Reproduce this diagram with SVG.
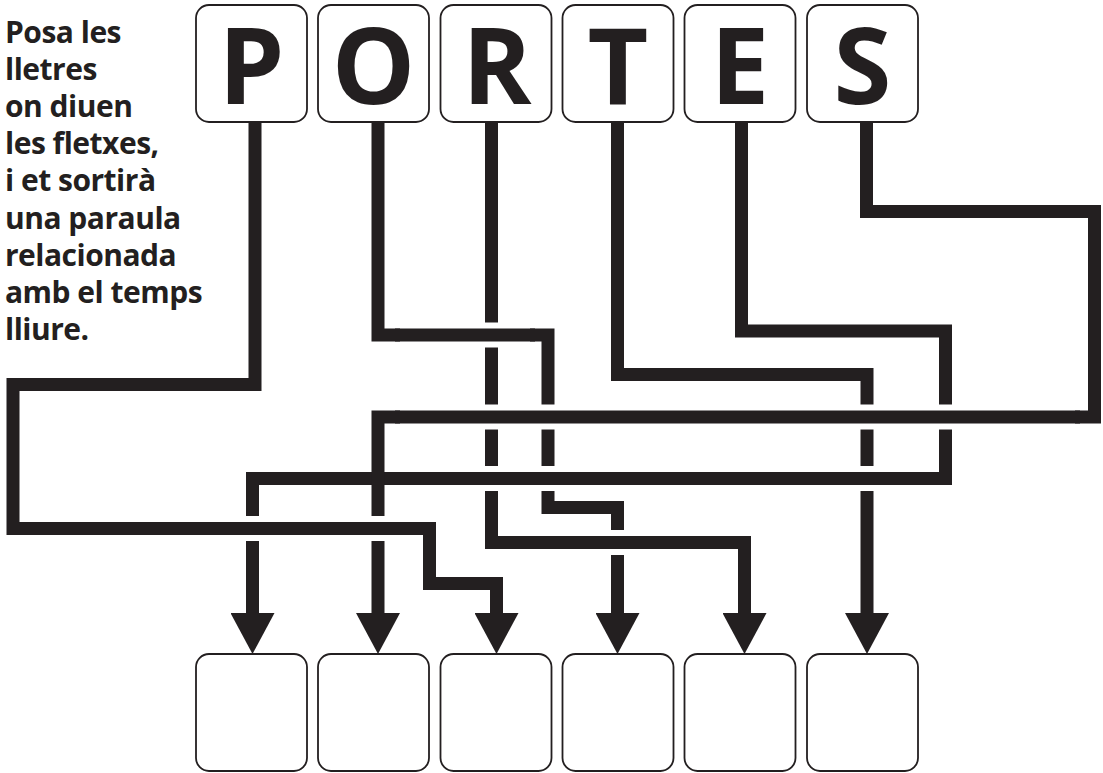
<svg xmlns="http://www.w3.org/2000/svg" width="1103" height="773" viewBox="0 0 1103 773">
  <style>
    .box { fill: #ffffff; stroke: #231f20; stroke-width: 1.8; }
    .letter { font-family: "Open Sans", "Noto Sans", "DejaVu Sans", sans-serif; font-weight: 700; font-size: 105px; fill: #231f20; text-anchor: middle; }
    .instr { font-family: "Open Sans", "Noto Sans", "DejaVu Sans", sans-serif; font-weight: 700; font-size: 30px; fill: #231f20; letter-spacing: -0.5px; }
    .wire { fill: none; stroke: #231f20; stroke-width: 13; stroke-linejoin: miter; stroke-linecap: butt; }
    .halo { fill: none; stroke: #ffffff; stroke-width: 25; stroke-linecap: butt; }
    .over { fill: none; stroke: #231f20; stroke-width: 13; stroke-linecap: butt; }
  </style>
  <defs>
    <marker id="head" viewBox="0 0 41 44" refX="0" refY="22" markerWidth="41" markerHeight="44" markerUnits="userSpaceOnUse" orient="auto">
      <path d="M0,0 L41,22 L0,44 Z" fill="#231f20"/>
    </marker>
  </defs>
  <rect x="0" y="0" width="1103" height="773" fill="#ffffff"/>

  <g id="instructions" class="instr">
    <text x="5" y="43">Posa les</text>
    <text x="5" y="80.1">lletres</text>
    <text x="5" y="117.2">on diuen</text>
    <text x="5" y="154.3">les fletxes,</text>
    <text x="5" y="191.4">i et sortirà</text>
    <text x="5" y="228.5">una paraula</text>
    <text x="5" y="265.6">relacionada</text>
    <text x="5" y="302.7">amb el temps</text>
    <text x="5" y="339.8">lliure.</text>
  </g>

  <g id="connectors">
    <path id="wire-P" class="wire" d="M255,122 V384.5 H13 V528.5 H429.5 V583.5 H496.5 V613" marker-end="url(#head)"/>
    <path id="wire-O" class="wire" d="M378,122 V335 H548 V507.5 H617.5 V613" marker-end="url(#head)"/>
    <path id="wire-R" class="wire" d="M491.5,122 V542.5 H744.5 V613" marker-end="url(#head)"/>
    <path id="wire-T" class="wire" d="M617.5,122 V374.5 H867 V613" marker-end="url(#head)"/>
    <path id="wire-E" class="wire" d="M741.5,122 V331 H945.5 V478.5 H252.5 V613" marker-end="url(#head)"/>
    <path id="wire-S" class="wire" d="M866.5,122 V211.5 H1094.5 V417 H378 V613" marker-end="url(#head)"/>
    <g id="crossings">
      <line class="halo" x1="400" y1="335" x2="530" y2="335"/>
      <line class="over" x1="395" y1="335" x2="535" y2="335"/>
      <line class="halo" x1="400" y1="417" x2="1075" y2="417"/>
      <line class="over" x1="395" y1="417" x2="1080" y2="417"/>
      <line class="halo" x1="400" y1="478.5" x2="930" y2="478.5"/>
      <line class="over" x1="395" y1="478.5" x2="935" y2="478.5"/>
      <line class="halo" x1="520" y1="542.5" x2="730" y2="542.5"/>
      <line class="over" x1="515" y1="542.5" x2="735" y2="542.5"/>
      <line class="halo" x1="30" y1="528.5" x2="415" y2="528.5"/>
      <line class="over" x1="25" y1="528.5" x2="420" y2="528.5"/>
    </g>
  </g>

  <g id="node-P"><rect class="box" x="196" y="5" width="111" height="117" rx="13"/><text class="letter" x="251.5" y="104">P</text></g>
  <g id="node-O"><rect class="box" x="318" y="5" width="111" height="117" rx="13"/><text class="letter" x="373.5" y="104">O</text></g>
  <g id="node-R"><rect class="box" x="440.5" y="5" width="111" height="117" rx="13"/><text class="letter" x="497" y="104">R</text></g>
  <g id="node-T"><rect class="box" x="562.5" y="5" width="111" height="117" rx="13"/><text class="letter" x="618" y="104">T</text></g>
  <g id="node-E"><rect class="box" x="684.5" y="5" width="111" height="117" rx="13"/><text class="letter" x="740" y="104">E</text></g>
  <g id="node-S"><rect class="box" x="807" y="5" width="111" height="117" rx="13"/><text class="letter" x="862.5" y="104">S</text></g>

  <g id="slot-1"><rect class="box" x="196" y="654" width="111" height="117" rx="13"/></g>
  <g id="slot-2"><rect class="box" x="318" y="654" width="111" height="117" rx="13"/></g>
  <g id="slot-3"><rect class="box" x="440.5" y="654" width="111" height="117" rx="13"/></g>
  <g id="slot-4"><rect class="box" x="562.5" y="654" width="111" height="117" rx="13"/></g>
  <g id="slot-5"><rect class="box" x="684.5" y="654" width="111" height="117" rx="13"/></g>
  <g id="slot-6"><rect class="box" x="807" y="654" width="111" height="117" rx="13"/></g>
</svg>
